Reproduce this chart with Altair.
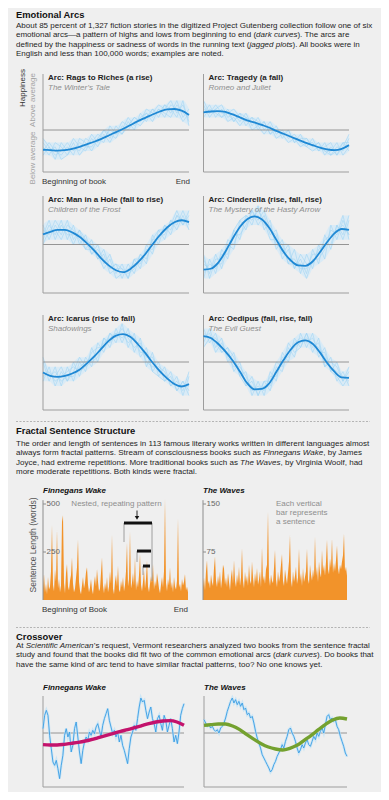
import altair as alt
import pandas as pd

FONT = "Liberation Sans"
OFF = 8  # page margin

# ---------------- Emotional arcs: data ----------------
arc_titles = ["Arc: Rags to Riches (a rise)", "Arc: Tragedy (a fall)",
              "Arc: Man in a Hole (fall to rise)", "Arc: Cinderella (rise, fall, rise)",
              "Arc: Icarus (rise to fall)", "Arc: Oedipus (fall, rise, fall)"]
arc_examples = ["The Winter’s Tale", "Romeo and Juliet", "Children of the Frost",
                "The Mystery of the Hasty Arrow", "Shadowings", "The Evil Guest"]

rags_curve = [-4.7, -4.8, -4.9, -4.8, -4.5, -4.0, -3.4, -2.8, -2.1, -1.3, -0.5, 0.3, 1.2, 2.1, 2.9, 3.7, 4.4, 4.9, 5.0, 4.6, 3.6]
tragedy_curve = [4.2, 4.4, 4.5, 4.3, 3.7, 3.0, 2.3, 1.8, 1.2, 0.6, -0.2, -0.9, -1.6, -2.3, -3.0, -3.6, -4.2, -4.6, -4.8, -4.5, -3.6]
hole_curve = [2.1, 2.6, 3.0, 3.0, 2.5, 1.6, 0.3, -1.2, -2.9, -4.3, -5.3, -5.7, -5.0, -3.7, -2.0, 0.0, 1.9, 3.5, 4.6, 5.0, 4.6]
cinderella_curve = [-5.2, -5.0, -3.8, -1.5, 1.2, 3.6, 5.2, 5.8, 5.2, 3.5, 1.0, -1.5, -3.3, -4.3, -4.4, -3.5, -1.6, 0.5, 2.3, 3.2, 3.0]
icarus_curve = [-2.2, -2.9, -3.1, -2.9, -2.4, -1.6, -0.3, 1.1, 2.8, 4.4, 5.5, 5.8, 5.2, 3.7, 1.9, -0.1, -1.9, -3.4, -4.6, -5.1, -4.6]
oedipus_curve = [5.4, 5.0, 3.8, 2.2, 0.3, -2.0, -4.4, -5.7, -5.6, -4.5, -2.1, 0.4, 2.6, 4.1, 4.5, 3.8, 2.0, -0.2, -2.0, -3.2, -3.3]

rags_books = [
    [-3, -5, -4, -7, -6, -4, -5, -2, -3, -1, -2, 0, -1, 2, 1, 3, 2, 5, 4, 6, 5, 7, 4, 6, 2],
    [-6, -4, -6, -5, -3, -5, -3, -4, -1, -3, 0, -2, 1, -1, 2, 0, 4, 2, 5, 3, 6, 4, 7, 3, 5],
    [-4, -6, -3, -4, -6, -3, -6, -4, -4, -2, -3, 1, -1, 0, 3, 1, 3, 4, 2, 5, 3, 6, 5, 2, 4],
    [-5, -3, -5, -6, -4, -6, -2, -3, -5, -2, 0, -1, -2, 1, 0, 2, 1, 3, 5, 4, 6, 5, 3, 7, 1],
    [-2, -4, -7, -3, -5, -2, -4, -5, -2, -4, -1, -3, 0, -1, 1, 3, 2, 4, 3, 5, 4, 3, 6, 4, 3]]
tragedy_books = [
    [6, 3, 5, 6, 3, 4, 2, 4, 1, 3, 0, 2, -1, 0, -2, -1, -3, -2, -4, -3, -6, -4, -6, -3, -5],
    [3, 5, 4, 3, 5, 2, 4, 1, 3, 0, 2, -1, 1, -2, 0, -3, -1, -4, -2, -5, -3, -6, -4, -5, -2],
    [5, 4, 6, 4, 4, 5, 3, 2, 3, 2, 1, 0, 0, -1, -1, -2, -3, -4, -5, -4, -5, -5, -3, -6, -4],
    [4, 6, 3, 5, 2, 3, 1, 3, 0, 1, -1, 1, -2, -1, -3, -2, -4, -3, -3, -5, -4, -3, -6, -4, -1],
    [7, 4, 5, 3, 4, 2, 4, 3, 2, 1, 2, -1, 0, -1, 0, -3, -2, -2, -4, -3, -5, -6, -5, -3, -3]]
hole_books = [
    [4, 1, 4, 2, 5, 1, 3, -1, 1, -3, -1, -5, -4, -7, -4, -6, -2, -4, 2, 0, 4, 2, 6, 4, 7],
    [1, 4, 2, 5, 1, 4, 0, 2, -2, 0, -4, -2, -6, -4, -7, -3, -5, 0, -2, 3, 1, 5, 3, 6, 3],
    [3, 2, 5, 3, 3, 0, 3, 1, 0, -3, -2, -6, -5, -5, -6, -5, -2, -3, 1, 1, 4, 3, 6, 5, 5],
    [0, 3, 3, 1, 4, 3, 1, -1, -1, -2, -5, -3, -7, -6, -5, -4, -4, -1, -1, 2, 2, 5, 4, 7, 4],
    [2, 5, 1, 4, 2, 2, 2, 1, -2, -1, -3, -5, -4, -5, -7, -3, -3, -2, 1, 3, 3, 4, 7, 4, 6]]
cinderella_books = [
    [-3, -6, -2, -5, 0, -1, 5, 3, 7, 4, 6, 2, 3, -2, 0, -5, -3, -6, -1, -4, 2, -1, 4, 1, 5],
    [-7, -3, -6, -1, -3, 3, 1, 6, 4, 8, 3, 5, -1, 1, -4, -1, -6, -2, -5, 0, -3, 4, 1, 5, 2],
    [-4, -5, -4, -4, 1, 0, 4, 5, 6, 6, 4, 4, 0, -1, -3, -3, -5, -5, -2, -2, 1, 2, 3, 4, 2],
    [-6, -4, -5, -2, -2, 2, 2, 4, 7, 5, 7, 3, 2, -3, -1, -5, -2, -4, -4, -1, 0, 0, 4, 2, 6],
    [-2, -7, -3, -3, -1, 3, 5, 6, 5, 7, 5, 1, 1, 0, -4, -4, -4, -7, -3, -3, -1, 3, 2, 6, 1]]
icarus_books = [
    [0, -4, -1, -5, -1, -4, 0, -2, 3, 0, 5, 3, 7, 4, 7, 2, 5, -1, 2, -3, -1, -5, -3, -7, -3],
    [-4, -1, -5, -2, -4, 0, -3, 1, -1, 4, 2, 6, 4, 8, 3, 6, 1, 3, -2, 0, -4, -2, -6, -4, -6],
    [-2, -3, -2, -4, -3, -3, -1, 0, 1, 2, 4, 5, 6, 5, 6, 5, 3, 1, 1, -2, -3, -4, -5, -5, -5],
    [-3, -2, -4, -3, -2, -1, -2, -1, 2, 3, 3, 6, 5, 7, 5, 3, 4, 0, -1, -1, -2, -5, -4, -6, -2],
    [1, -3, -3, -1, -4, -2, 1, -1, 0, 1, 5, 4, 6, 6, 4, 5, 2, 2, -2, -3, -4, -3, -6, -4, -7]]
oedipus_books = [
    [7, 4, 6, 2, 3, -2, 0, -5, -3, -7, -4, -6, -1, -2, 3, 1, 6, 3, 6, 1, 3, -2, 0, -4, -2],
    [4, 7, 3, 5, 0, 2, -3, -2, -7, -4, -7, -2, -4, 2, 0, 5, 3, 6, 2, 5, -1, 1, -4, -2, -5],
    [6, 5, 5, 3, 2, 0, -2, -4, -5, -6, -5, -5, -2, 0, 2, 3, 4, 5, 4, 3, 1, -1, -2, -3, -4],
    [5, 6, 2, 4, 1, -1, -1, -3, -6, -5, -6, -3, -3, 1, 1, 4, 5, 4, 5, 2, 2, -2, -3, -5, -3],
    [3, 5, 4, 2, 3, 1, -3, -5, -4, -7, -4, -4, 0, -1, 4, 2, 3, 6, 3, 4, -1, 0, -1, -4, -1]]

arc_curves = [rags_curve, tragedy_curve, hole_curve, cinderella_curve, icarus_curve, oedipus_curve]
arc_books = [rags_books, tragedy_books, hole_books, cinderella_books, icarus_books, oedipus_books]

# ---------------- Fractal sentence lengths (words) ----------------
wake_lengths = [
    60, 136, 40, 85, 30, 120, 55, 70, 150, 391,
    80, 45, 160, 95, 366, 60, 110, 40, 75, 408,
    442, 90, 35, 140, 187, 70, 50, 100, 130, 221,
    85, 40, 60, 115, 170, 315, 95, 50, 30, 75,
    120, 60, 90, 145, 170, 80, 40, 65, 110, 55,
    30, 85, 125, 70, 162, 95, 45, 60, 140, 221,
    75, 35, 90, 55, 120, 40, 70, 150, 85, 340,
    60, 30, 95, 130, 70, 179, 55, 40, 100, 65,
    120, 45, 80, 150, 298, 70, 110, 357, 60, 90,
    140, 75, 221, 50, 100, 65, 130, 238, 80, 45,
    95, 155, 60, 110, 204, 70, 40, 85, 125, 90,
    187, 55, 100, 70, 140, 102, 60, 35, 80, 120,
    65, 150, 527, 90, 45, 110, 75, 170, 60, 95,
    40, 120, 70, 55, 100, 425, 65, 85, 45, 110,
    75, 95, 136, 50, 70, 40]
waves_lengths = [
    20, 35, 15, 45, 62, 25, 30, 18, 40, 28,
    22, 50, 68, 30, 20, 38, 25, 45, 18, 32,
    55, 49, 24, 35, 20, 42, 28, 15, 36, 48,
    25, 62, 30, 20, 40, 26, 52, 22, 35, 81,
    30, 18, 44, 28, 38, 22, 55, 30, 25, 60,
    35, 20, 42, 28, 50, 24, 32, 45, 20, 83,
    30, 38, 25, 48, 55, 138, 35, 22, 40, 30,
    26, 50, 78, 32, 20, 45, 28, 38, 55, 72,
    30, 22, 48, 35, 25, 42, 60, 102, 30, 20,
    45, 28, 38, 52, 25, 35, 80, 30, 42, 22,
    50, 28, 36, 45, 80, 32, 25, 55, 40, 30,
    48, 35, 99, 38, 52, 28, 60, 42, 35, 78,
    45, 55, 38, 60, 94, 48, 40, 65, 50, 96,
    42, 58, 45, 62, 85, 50, 40, 55, 48, 60,
    70, 104, 45, 52, 38]
wake_ticks = [250, 500]
waves_ticks = [75, 150]
# nested pattern brackets on Finnegans Wake (sentence index, words)
bracket_x0 = [81, 94, 100]
bracket_x1 = [109, 108, 107]
bracket_y = [401, 255, 177]
bracket_drop = [302, 198, 130]
right_drop = 99
arrow_x = 94
arrow_y = [466, 436]
arrow_head = 428

# ---------------- Crossover ----------------
cross_wake_text = [1.3, 5.3, 6.8, 5.3, -0.7, -4.7, -8.7, -9.7, -8.2, -10.7,
                   -13.7, -9.7, -6.7, -0.7, 1.3, -1.2, 0.3, -5.7, -3.7, 1.3,
                   3.3, -1.2, -5.7, -9.2, -5.2, -2.7, -1.2, -2.2, 0.3, -0.7,
                   0.8, -0.2, 1.8, 2.8, 0.8, -1.2, 2.3, 4.3, 5.8, 7.3,
                   3.8, 1.8, -0.2, 0.8, -1.2, 0.3, -2.7, -0.7, -3.7, -5.2,
                   -7.2, -9.2, -4.7, -1.2, 0.3, 2.3, 0.8, 4.3, 7.8, 10.5,
                   9.3, 9.8, 6.8, 4.3, 6.3, 7.8, 4.3, 2.8, 0.3, 4.3,
                   5.3, 2.8, 0.8, 5.3, 3.8, 0.3, 2.3, 4.3, 1.3, -2.7,
                   -0.7, -3.2, 0.3, 5.3, 7.3, 8.8]
cross_wake_arc = [-3.5, -3.6, -3.6, -3.4, -3.1, -2.8, -2.4, -1.9, -1.3, -0.7, -0.1,
                  0.5, 1.0, 1.6, 2.2, 2.8, 3.3, 3.6, 3.7, 3.3, 2.3]
cross_waves_text = [4.0, 3.0, 2.0, 2.5, 1.5, 2.0, 1.0, 0.5, 1.0, 0.0,
                    1.5, 2.0, 3.0, 4.5, 6.5, 8.0, 9.5, 10.5, 9.0, 10.0,
                    8.5, 9.5, 8.0, 9.0, 7.0, 7.5, 5.5, 6.0, 4.5, 5.0,
                    3.0, 0.5, -1.5, -3.0, -4.5, -6.5, -7.5, -8.5, -9.5, -10.5,
                    -11.7, -11.0, -9.5, -8.5, -7.0, -6.0, -5.0, -3.5, -4.5, -2.5,
                    -1.0, 1.0, 1.5, 0.0, -1.0, -2.5, -4.5, -6.0, -5.0, -3.5,
                    -4.5, -3.0, -2.0, -3.5, -4.0, -2.5, -1.0, -2.0, 0.0, -1.0,
                    0.5, 1.5, 0.0, 2.5, 5.0, 5.5, 4.0, 4.5, 3.5, 4.0,
                    2.0, 1.0, -1.0, -2.5, -4.0, -6.0, -7.0]
cross_waves_arc = [2.3, 2.5, 2.7, 2.7, 2.1, 1.0, -0.5, -1.9, -3.2, -4.2, -4.8,
                   -5.1, -4.6, -3.7, -2.2, -0.7, 1.0, 2.6, 3.9, 4.5, 4.2]

# ---------------- text metrics (Arial / Liberation Sans widths) ----------------
WID = {c: 556 for c in "0123456789"}
WID.update({' ': 278, ',': 278, '.': 278, ';': 278, ':': 278, '(': 333, ')': 333,
            '-': 333, '?': 556, "'": 191, '’': 222, '—': 1000})
WID.update(dict(zip("ABCDEFGHIJKLMNOPQRSTUVWXYZ",
                    [667, 667, 722, 722, 667, 611, 778, 722, 278, 500, 667, 556, 833,
                     722, 778, 667, 778, 722, 667, 611, 722, 667, 944, 667, 667, 611])))
WID.update(dict(zip("abcdefghijklmnopqrstuvwxyz",
                    [556, 556, 500, 556, 556, 278, 556, 556, 222, 222, 500, 222, 833,
                     556, 556, 556, 556, 333, 500, 278, 556, 500, 722, 500, 500, 500])))


def tw(s, size):
    return sum(WID.get(ch, 556) for ch in s) * size / 1000.0


texts = []


def put(x, y, text, style):
    texts.append(dict(x=x - OFF, y=y - OFF, text=text, style=style))


def para(lines, x0, ys, size=8):
    for segs, y in zip(lines, ys):
        x = x0
        for s, it in segs:
            put(x, y, s, 'pi' if it else 'p')
            x += tw(s, size)


# --- section 1 text
put(16, 15, "Emotional Arcs", 'h')
para([
    [("About 85 percent of 1,327 fiction stories in the digitized Project Gutenberg collection follow one of six", False)],
    [("emotional arcs—a pattern of highs and lows from beginning to end (", False), ("dark curves", True), ("). The arcs are", False)],
    [("defined by the happiness or sadness of words in the running text (", False), ("jagged plots", True), ("). All books were in", False)],
    [("English and less than 100,000 words; examples are noted.", False)],
], 16, [25.5, 35, 44.5, 54])

# --- section 2 text
put(16, 431, "Fractal Sentence Structure", 'h')
para([
    [("The order and length of sentences in 113 famous literary works written in different languages almost", False)],
    [("always form fractal patterns. Stream of consciousness books such as ", False), ("Finnegans Wake", True), (", by James", False)],
    [("Joyce, had extreme repetitions. More traditional books such as ", False), ("The Waves", True), (", by Virginia Woolf, had", False)],
    [("more moderate repetitions. Both kinds were fractal.", False)],
], 16, [443.5, 453, 462.5, 472])

# --- section 3 text
put(16, 636.5, "Crossover", 'h')
para([
    [("At ", False), ("Scientific American", True), ("’s request, Vermont researchers analyzed two books from the sentence fractal", False)],
    [("study and found that the books did fit two of the common emotional arcs (", False), ("dark curves", True), ("). Do books that", False)],
    [("have the same kind of arc tend to have similar fractal patterns, too? No one knows yet.", False)],
], 16, [645.5, 655, 664.5])

layers = []


def sc(d, r):
    return alt.Scale(domain=d, range=[r[0] - OFF, r[1] - OFF])


AXC = '#9d9d9d'

# ---------------- arc panels ----------------
rows = [dict(top=74, base=130, bot=172, title=78, sub=88),
        dict(top=196, base=244.5, bot=293, title=200, sub=210),
        dict(top=315, base=362, bot=410, title=319, sub=329)]
cols = [(43, 189), (203.5, 349)]
t21 = [i / 20 for i in range(21)]
t25 = [i / 24 for i in range(25)]

for k in range(6):
    r = rows[k // 2]
    x0, x1 = cols[k % 2]
    ymax = (r['base'] - r['top']) / (r['bot'] - r['base']) * 10
    xs = sc([0, 1], [x0, x1])
    ys = sc([-10, ymax], [r['bot'], r['top']])
    light = pd.DataFrame([dict(t=t25[j], v=v, line=n)
                          for n, ln in enumerate(arc_books[k]) for j, v in enumerate(ln)])
    dark = pd.DataFrame(dict(t=t21, v=arc_curves[k]))
    ax = pd.DataFrame(dict(x=[0], x2=[1], y=[-10], y2=[ymax], z=[0]))
    X = lambda f: alt.X(f, type='quantitative', scale=xs, axis=None)
    Y = lambda f: alt.Y(f, type='quantitative', scale=ys, axis=None)
    # haze: envelope of the individual books
    layers.append(alt.Chart(light).transform_aggregate(lo='min(v)', hi='max(v)', groupby=['t'])
                  .mark_area(color='#d3eaf8', opacity=0.75, interpolate='monotone')
                  .encode(x=X('t'), y=Y('lo'), y2='hi'))
    layers.append(alt.Chart(light).mark_line(color='#a2d4f4', strokeWidth=0.7, opacity=0.85)
                  .encode(x=X('t'), y=Y('v'), detail='line:N'))
    layers.append(alt.Chart(ax).mark_rule(color='#8a8a8a', strokeWidth=0.9)
                  .encode(x=X('x'), x2='x2', y=Y('z')))
    layers.append(alt.Chart(ax).mark_rule(color=AXC, strokeWidth=1)
                  .encode(x=X('x'), y=Y('y'), y2='y2'))
    layers.append(alt.Chart(ax).mark_rule(color=AXC, strokeWidth=1)
                  .encode(x=X('x'), x2='x2', y=Y('y')))
    layers.append(alt.Chart(dark).mark_line(color='#1f88d4', strokeWidth=1.8, interpolate='monotone')
                  .encode(x=X('t'), y=Y('v')))
    put(x0 + 5, r['title'], arc_titles[k], 'at')
    put(x0 + 5, r['sub'], arc_examples[k], 'as')

put(23, 88, "Happiness", 'rot')
put(33, 100, "Above average", 'rotg')
put(33, 158, "Below average", 'rotg')
put(42, 182, "Beginning of book", 'lab')
put(190, 182, "End", 'labr')

# ---------------- fractal panels ----------------
fr = [dict(vals=wake_lengths, ticks=wake_ticks, top=500, x0=43, x1=188, name="Finnegans Wake"),
      dict(vals=waves_lengths, ticks=waves_ticks, top=150, x0=203, x1=347, name="The Waves")]
FB, FT = 600, 504
fscales = []
for f in fr:
    n = len(f['vals'])
    xs = sc([0, n - 1], [f['x0'], f['x1']])
    ys = sc([0, f['top']], [FB, FT])
    fscales.append((xs, ys))
    d = pd.DataFrame(dict(i=list(range(n)), v=f['vals']))
    layers.append(alt.Chart(d).mark_area(color='#f2932a', interpolate='linear')
                  .encode(x=alt.X('i:Q', scale=xs, axis=None), y=alt.Y('v:Q', scale=ys, axis=None)))
    ax = pd.DataFrame(dict(y=[0], y2=[f['top'] * 1.04]))
    layers.append(alt.Chart(ax).mark_rule(color='#8d8d8d', strokeWidth=1)
                  .encode(x=alt.value(f['x0'] - OFF), y=alt.Y('y:Q', scale=ys, axis=None), y2='y2'))
    tk = pd.DataFrame(dict(v=f['ticks'], lab=[str(t) for t in f['ticks']]))
    layers.append(alt.Chart(tk).mark_rule(color='#8d8d8d', strokeWidth=1)
                  .encode(x=alt.value(f['x0'] - OFF), x2=alt.value(f['x0'] - OFF + 3),
                          y=alt.Y('v:Q', scale=ys, axis=None)))
    layers.append(alt.Chart(tk).mark_text(font=FONT, fontSize=8, color='#666', align='left', baseline='middle')
                  .encode(x=alt.value(f['x0'] - OFF + 3.5), y=alt.Y('v:Q', scale=ys, axis=None), text='lab:N'))
    put(f['x0'], 491, f['name'], 'ft')

# nested pattern annotation on Finnegans Wake
xs, ys = fscales[0]
br = pd.DataFrame(dict(x0=bracket_x0, x1=bracket_x1, y=bracket_y, yd=bracket_drop))
layers.append(alt.Chart(br).mark_rule(color='#8a8a8a', strokeWidth=0.8)
              .encode(x=alt.X('x0:Q', scale=xs, axis=None), y=alt.Y('y:Q', scale=ys, axis=None), y2='yd'))
rd = pd.DataFrame(dict(x=[bracket_x1[0]], y=[bracket_y[0]], y2=[right_drop]))
layers.append(alt.Chart(rd).mark_rule(color='#8a8a8a', strokeWidth=0.8)
              .encode(x=alt.X('x:Q', scale=xs, axis=None), y=alt.Y('y:Q', scale=ys, axis=None), y2='y2'))
layers.append(alt.Chart(br).mark_rule(color='#111', strokeWidth=3)
              .encode(x=alt.X('x0:Q', scale=xs, axis=None), x2='x1', y=alt.Y('y:Q', scale=ys, axis=None)))
ar = pd.DataFrame(dict(x=[arrow_x], y=[arrow_y[0]], y2=[arrow_y[1]], h=[arrow_head]))
layers.append(alt.Chart(ar).mark_rule(color='#111', strokeWidth=0.9)
              .encode(x=alt.X('x:Q', scale=xs, axis=None), y=alt.Y('y:Q', scale=ys, axis=None), y2='y2'))
layers.append(alt.Chart(ar).mark_point(shape='triangle-down', filled=True, size=20, color='#111', opacity=1)
              .encode(x=alt.X('x:Q', scale=xs, axis=None), y=alt.Y('h:Q', scale=ys, axis=None)))

put(116.5, 504, "Nested, repeating pattern", 'annc')
put(276, 504, "Each vertical", 'ann')
put(276, 513, "bar represents", 'ann')
put(276, 522, "a sentence", 'ann')
put(33, 545, "Sentence Length (words)", 'rot2')
put(42, 610, "Beginning of Book", 'lab')
put(188, 610, "End", 'labr')

# ---------------- crossover panels ----------------
cr = [dict(txt=cross_wake_text, arc=cross_wake_arc, x0=43, x1=184, col='#c3136c', name="Finnegans Wake"),
      dict(txt=cross_waves_text, arc=cross_waves_arc, x0=204, x1=347, col='#74a12f', name="The Waves")]
CT, CB, CBASE = 696, 787, 733
for c in cr:
    lo = -(CB - CBASE) / 3.333
    hi = (CBASE - CT) / 3.333
    xs = sc([0, 1], [c['x0'], c['x1']])
    ys = sc([lo, hi], [CB, CT])
    X = lambda f: alt.X(f, type='quantitative', scale=xs, axis=None)
    Y = lambda f: alt.Y(f, type='quantitative', scale=ys, axis=None)
    n = len(c['txt'])
    dt = pd.DataFrame(dict(t=[i / (n - 1) for i in range(n)], v=c['txt']))
    da = pd.DataFrame(dict(t=t21, v=c['arc']))
    ax = pd.DataFrame(dict(x=[0], x2=[1], y=[lo], y2=[hi], z=[0]))
    layers.append(alt.Chart(ax).mark_rule(color='#8a8a8a', strokeWidth=0.9)
                  .encode(x=X('x'), x2='x2', y=Y('z')))
    layers.append(alt.Chart(ax).mark_rule(color=AXC, strokeWidth=1)
                  .encode(x=X('x'), y=Y('y'), y2='y2'))
    layers.append(alt.Chart(ax).mark_rule(color=AXC, strokeWidth=1.2)
                  .encode(x=X('x'), x2='x2', y=Y('y')))
    layers.append(alt.Chart(dt).mark_line(color='#bfe2f8', strokeWidth=2.6, opacity=0.7)
                  .encode(x=X('t'), y=Y('v')))
    layers.append(alt.Chart(dt).mark_line(color='#3a9de3', strokeWidth=0.9)
                  .encode(x=X('t'), y=Y('v')))
    layers.append(alt.Chart(da).mark_line(color=c['col'], strokeWidth=3.4, interpolate='monotone')
                  .encode(x=X('t'), y=Y('v')))
    put(c['x0'], 688, c['name'], 'ft')

# ---------------- dashed dividers ----------------
one = pd.DataFrame(dict(a=[0]))
for yy in [421.5, 627.5]:
    layers.append(alt.Chart(one).mark_rule(color='#a5a5a5', strokeWidth=0.8, strokeDash=[2, 1.5])
                  .encode(x=alt.value(16 - OFF), x2=alt.value(370 - OFF), y=alt.value(yy - OFF)))

# ---------------- text layers ----------------
styles = {
    'h': dict(fontSize=9.4, fontWeight='bold', color='#111111', align='left'),
    'p': dict(fontSize=8, color='#1e1e1e', align='left'),
    'pi': dict(fontSize=8, fontStyle='italic', color='#1e1e1e', align='left'),
    'at': dict(fontSize=8, fontWeight='bold', color='#222222', align='left'),
    'as': dict(fontSize=8, fontStyle='italic', color='#8e8e8e', align='left'),
    'lab': dict(fontSize=8, color='#333333', align='left'),
    'labr': dict(fontSize=8, color='#333333', align='right'),
    'rot': dict(fontSize=8, color='#333333', align='center', angle=270),
    'rot2': dict(fontSize=8.5, color='#555555', align='center', angle=270),
    'rotg': dict(fontSize=8, color='#a3a3a3', align='center', angle=270),
    'ft': dict(fontSize=8, fontWeight='bold', fontStyle='italic', color='#111111', align='left'),
    'ann': dict(fontSize=8, color='#8e8e8e', align='left'),
    'annc': dict(fontSize=8, color='#8e8e8e', align='center'),
}
tdf = pd.DataFrame(texts)
for st, kw in styles.items():
    sub = tdf[tdf['style'] == st]
    if len(sub) == 0:
        continue
    layers.append(alt.Chart(sub).mark_text(font=FONT, baseline='middle', **kw)
                  .encode(x=alt.X('x:Q', scale=None, axis=None),
                          y=alt.Y('y:Q', scale=None, axis=None),
                          text='text:N'))

chart = (alt.layer(*layers)
         .resolve_scale(x='independent', y='independent')
         .properties(width=373, height=784, padding=0,
                     autosize=alt.AutoSizeParams(type='none'),
                     background='#efefef')
         .configure_view(strokeWidth=0))

chart.save("out.html", embed_options={"renderer": "svg", "actions": False})
